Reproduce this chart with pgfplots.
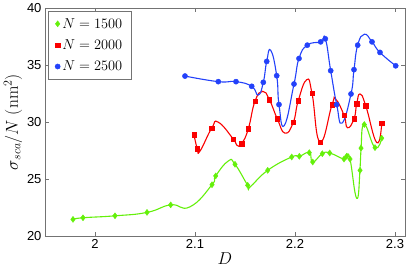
\documentclass[border=0pt]{standalone}
\usepackage{pgfplots}
\pgfplotsset{compat=1.18}
\usepackage{fontspec}
\newfontfamily\hv{Liberation Sans}
\definecolor{cg}{RGB}{100,240,10}
\definecolor{cr}{RGB}{250,0,0}
\definecolor{cb}{RGB}{35,65,250}
\begin{document}
\begin{tikzpicture}
\begin{axis}[
  scale only axis, width=360pt, height=228pt,
  xmin=1.95, xmax=2.31, ymin=20, ymax=40,
  xtick={2,2.1,2.2,2.3}, ytick={20,25,30,35,40},
  axis line style={draw=black!55, line width=0.6pt},
  tick style={draw=black!55, line width=0.6pt},
  major tick length=4pt,
  tick align=inside,
  xtick pos=both, ytick pos=both,
  /pgf/number format/assume math mode=true,
  tick label style={font=\hv\fontsize{13}{14}\selectfont, text=black},
  xlabel={$D$}, ylabel={$\sigma_{sca}/N\;(\mathrm{nm}^2)$},
  label style={font=\fontsize{17.5}{19}\selectfont},
  xlabel style={yshift=3pt},
  ylabel style={yshift=-2pt},
  legend style={at={(0.008,0.987)}, anchor=north west, draw=black!55,
    font=\fontsize{15}{17}\selectfont, row sep=6pt, inner ysep=5pt, inner xsep=7pt},
  legend cell align=left,
]
% lines (points + visible curve extrema)
\addplot[cg, line width=1.1pt, smooth, tension=0.85, forget plot] coordinates {
(1.978,21.46)(1.988,21.6)(2.020,21.77)(2.052,22.07)(2.0757,22.73)(2.095,22.56)
(2.117,24.5)(2.1207,25.27)(2.1333,26.58)(2.14,26.29)(2.1527,24.45)(2.155,24.3)(2.1727,25.76)
(2.1967,26.93)(2.2043,26.99)(2.2143,27.31)(2.2177,26.49)(2.2273,27.22)(2.2347,27.28)
(2.249,26.75)(2.2517,27.0)(2.255,26.75)(2.2617,23.3)(2.265,25.76)(2.266,27.71)(2.2693,29.78)
(2.28,27.75)(2.2867,28.58)};
\addplot[cr, line width=1.1pt, smooth, tension=0.85, forget plot] coordinates {
(2.099,28.88)(2.1023,27.66)(2.105,27.45)(2.1167,29.46)(2.1233,29.98)(2.1383,28.5)(2.142,27.95)
(2.1467,28.1)(2.1533,29.4)(2.16,31.82)(2.1677,32.69)(2.1743,31.97)(2.1823,30.28)(2.19,29.02)
(2.1983,29.98)(2.2033,31.88)(2.2117,33.71)(2.217,32.52)(2.225,28.24)(2.237,31.5)(2.2407,32.0)
(2.249,30.6)(2.2525,29.5)(2.259,30.28)(2.2617,31.59)(2.265,32.46)(2.2707,31.44)(2.2817,28.2)(2.2867,29.9)};
\addplot[cb, line width=1.1pt, smooth, tension=0.85, forget plot] coordinates {
(2.09,34.03)(2.1233,33.54)(2.141,33.54)(2.1567,33.13)(2.1633,32.37)(2.1683,33.48)(2.1717,35.31)
(2.1757,36.3)(2.1817,34.06)(2.184,31.53)(2.1893,29.69)(2.199,33.33)(2.204,35.57)(2.2123,36.74)
(2.2257,37.03)(2.2303,37.3)(2.2357,34.5)(2.2417,31.53)(2.247,29.9)(2.256,32.46)(2.259,34.59)
(2.2627,36.74)(2.2693,37.7)(2.277,37.03)(2.285,36.1)(2.3007,34.93)};
% markers
\addplot[only marks, mark=diamond*, mark size=3pt, color=cg] coordinates {
(1.978,21.46)(1.988,21.6)(2.020,21.77)(2.052,22.07)(2.0757,22.73)
(2.117,24.5)(2.1207,25.27)(2.14,26.29)(2.1527,24.45)(2.1727,25.76)
(2.1967,26.93)(2.2043,26.99)(2.2143,27.31)(2.2177,26.49)(2.2273,27.22)(2.2347,27.28)
(2.249,26.75)(2.2517,27.0)(2.255,26.75)(2.265,25.76)(2.266,27.71)(2.2693,29.78)
(2.28,27.75)(2.2867,28.58)};
\addlegendentry{$N=1500$}
\addplot[only marks, mark=square*, mark size=2.2pt, color=cr] coordinates {
(2.099,28.88)(2.1023,27.66)(2.1167,29.46)(2.1383,28.5)(2.1467,28.1)(2.1533,29.4)(2.16,31.82)
(2.1743,31.97)(2.1823,30.28)(2.1983,29.98)(2.2033,31.88)(2.217,32.52)(2.225,28.24)(2.237,31.5)
(2.249,30.6)(2.259,30.28)(2.2617,31.59)(2.2707,31.44)(2.2867,29.9)};
\addlegendentry{$N=2000$}
\addplot[only marks, mark=*, mark size=2.6pt, color=cb] coordinates {
(2.09,34.03)(2.1233,33.54)(2.141,33.54)(2.1567,33.13)(2.1683,33.48)(2.1717,35.31)
(2.1817,34.06)(2.184,31.53)(2.199,33.33)(2.204,35.57)(2.2123,36.74)
(2.2257,37.03)(2.2303,37.3)(2.2357,34.5)(2.2417,31.53)(2.256,32.46)(2.259,34.59)
(2.2627,36.74)(2.277,37.03)(2.285,36.1)(2.3007,34.93)};
\addlegendentry{$N=2500$}
\end{axis}
\pgfresetboundingbox
\path[use as bounding box] ([shift={(-45pt,-37pt)}]current axis.south west) rectangle ([shift={(10pt,8pt)}]current axis.north east);
\end{tikzpicture}
\end{document}
